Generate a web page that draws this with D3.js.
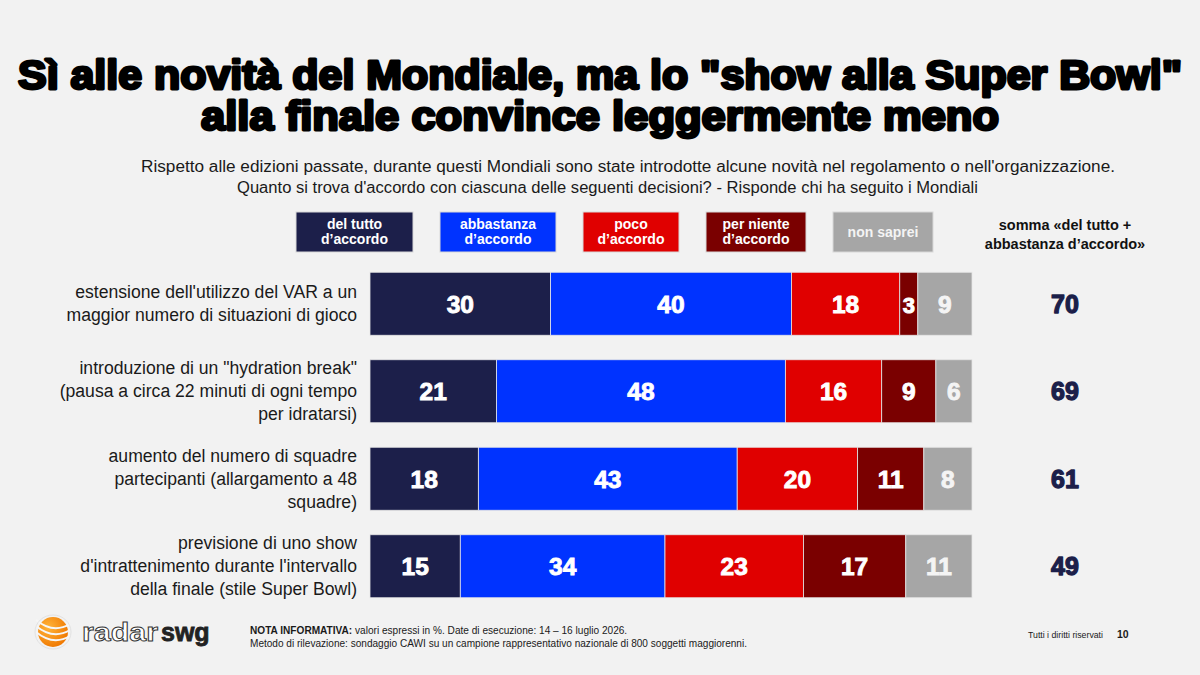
<!DOCTYPE html>
<html><head><meta charset="utf-8">
<script src="https://cdn.jsdelivr.net/npm/d3@7"></script>
<style>
html,body{margin:0;padding:0;background:#f2f2f2;}
svg{display:block;font-family:"Liberation Sans",Arial,sans-serif;}
</style></head>
<body>
<svg id="chart" width="1200" height="675"></svg>
<script>
// ---- data ----
const categories = [
  ["estensione dell'utilizzo del VAR a un", "maggior numero di situazioni di gioco"],
  ["introduzione di un \"hydration break\"", "(pausa a circa 22 minuti di ogni tempo", "per idratarsi)"],
  ["aumento del numero di squadre", "partecipanti (allargamento a 48", "squadre)"],
  ["previsione di uno show", "d'intrattenimento durante l'intervallo", "della finale (stile Super Bowl)"]
];
const seriesNames = [["del tutto","d\u2019accordo"],["abbastanza","d\u2019accordo"],["poco","d\u2019accordo"],["per niente","d\u2019accordo"],["non saprei"]];
const delTutto   = [30, 21, 18, 15];
const abbastanza = [40, 48, 43, 34];
const poco       = [18, 16, 20, 23];
const perNiente  = [3, 9, 11, 17];
const nonSaprei  = [9, 6, 8, 11];
const somma      = [70, 69, 61, 49];
const colors = ["#1c1f4a", "#0033ff", "#e00000", "#7a0000", "#a6a6a6"];

const seriesValues = [delTutto, abbastanza, poco, perNiente, nonSaprei];

const svg = d3.select("#chart");
svg.append("rect").attr("width",1200).attr("height",675).attr("fill","#f2f2f2");

// ---- title ----
const title = svg.append("g");
title.append("text").attr("x",18).attr("y",89)
  .attr("textLength",1164).attr("lengthAdjust","spacingAndGlyphs")
  .text("S\u00ec alle novit\u00e0 del Mondiale, ma lo \"show alla Super Bowl\"");
title.append("text").attr("x",201).attr("y",130)
  .attr("textLength",798).attr("lengthAdjust","spacingAndGlyphs")
  .text("alla finale convince leggermente meno");
title.selectAll("text").attr("font-size",40).attr("font-weight","bold")
  .attr("fill","#000").attr("stroke","#000").attr("stroke-width",2.8).attr("stroke-linejoin","round");

// ---- subtitle ----
svg.append("text").attr("x",141).attr("y",172).attr("font-size",15.8).attr("fill","#1a1a1a")
  .attr("textLength",974).attr("lengthAdjust","spacingAndGlyphs")
  .text("Rispetto alle edizioni passate, durante questi Mondiali sono state introdotte alcune novit\u00e0 nel regolamento o nell'organizzazione.");
svg.append("text").attr("x",237).attr("y",193).attr("font-size",15.8).attr("fill","#1a1a1a")
  .attr("textLength",741).attr("lengthAdjust","spacingAndGlyphs")
  .text("Quanto si trova d'accordo con ciascuna delle seguenti decisioni? - Risponde chi ha seguito i Mondiali");

// ---- legend ----
const legendX = [296, 440, 583, 706, 833];
const legendW = [117, 116, 96, 100, 100];
const lg = svg.append("g").selectAll("g").data(seriesNames).join("g");
lg.append("rect").attr("x",(d,i)=>legendX[i]).attr("y",212).attr("width",(d,i)=>legendW[i]).attr("height",40)
  .attr("fill",(d,i)=>colors[i]).attr("stroke","#d8d8d8").attr("stroke-width",1);
lg.each(function(d,i){
  const t = d3.select(this).append("text").attr("text-anchor","middle").attr("fill",i===4?"#f4f4f4":"#fff")
    .attr("font-size",14).attr("font-weight","bold");
  const cx = legendX[i]+legendW[i]/2;
  if(d.length===1){ t.append("tspan").attr("x",cx).attr("y",237).text(d[0]); }
  else { d.forEach((s,j)=>t.append("tspan").attr("x",cx).attr("y",229+j*15).text(s)); }
});

// somma header
const sh = svg.append("text").attr("text-anchor","middle").attr("font-size",14.5).attr("font-weight","bold").attr("fill","#111");
sh.append("tspan").attr("x",1065).attr("y",230).text("somma \u00abdel tutto +");
sh.append("tspan").attr("x",1065).attr("y",249).text("abbastanza d\u2019accordo\u00bb");

// ---- scales ----
const x = d3.scaleLinear().domain([0,100]).range([370,972]);
const y = d3.scaleBand().domain(d3.range(categories.length)).range([260,610]).paddingInner(0.28).paddingOuter(0.14);

// stack
const rows = categories.map((c,i)=>{ const o={}; seriesValues.forEach((s,k)=>o["s"+k]=s[i]); return o; });
const stack = d3.stack().keys(seriesValues.map((s,k)=>"s"+k))(rows);

const barsG = svg.append("g");
stack.forEach((layer,k)=>{
  const g = barsG.append("g");
  g.selectAll("rect").data(layer).join("rect")
    .attr("x",d=>x(d[0])).attr("y",(d,i)=>y(i))
    .attr("width",d=>x(d[1])-x(d[0])).attr("height",y.bandwidth())
    .attr("fill",colors[k]).attr("stroke","#e6e6e6").attr("stroke-width",0.8);
  g.selectAll("text").data(layer).join("text")
    .attr("x",d=>(x(d[0])+x(d[1]))/2).attr("y",(d,i)=>y(i)+y.bandwidth()/2+9)
    .attr("text-anchor","middle").attr("font-size",(d)=>(d[1]-d[0])<5?22:24.5).attr("font-weight","bold")
    .attr("fill",k===4?"#f4f4f4":"#fff").attr("stroke",k===4?"#f4f4f4":"#fff").attr("stroke-width",0.9)
    .text(d=>d[1]-d[0]);
});

// ---- category labels ----
const catG = svg.append("g");
categories.forEach((lines,i)=>{
  const cy = y(i)+y.bandwidth()/2;
  const n = lines.length, lh = 23;
  const t = catG.append("text").attr("text-anchor","end").attr("font-size",17.6).attr("fill","#1a1a1a");
  lines.forEach((s,j)=>t.append("tspan").attr("x",357).attr("y",cy+6+(j-(n-1)/2)*lh).text(s));
});

// ---- sums ----
svg.append("g").selectAll("text").data(somma).join("text")
  .attr("x",1065).attr("y",(d,i)=>y(i)+y.bandwidth()/2+9)
  .attr("text-anchor","middle").attr("font-size",25).attr("font-weight","bold").attr("fill","#1c1f4a")
  .attr("stroke","#1c1f4a").attr("stroke-width",1.3).attr("stroke-linejoin","round")
  .text(d=>d);

// ---- footer ----
const f1 = svg.append("text").attr("x",250).attr("y",634).attr("font-size",10.1).attr("fill","#1a1a1a");
f1.append("tspan").attr("font-weight","bold").text("NOTA INFORMATIVA:");
f1.append("tspan").text(" valori espressi in %. Date di esecuzione: 14 \u2013 16 luglio 2026.");
svg.append("text").attr("x",250).attr("y",647).attr("font-size",10.1).attr("fill","#1a1a1a")
  .attr("textLength",497).attr("lengthAdjust","spacingAndGlyphs")
  .text("Metodo di rilevazione: sondaggio CAWI su un campione rappresentativo nazionale di 800 soggetti maggiorenni.");
svg.append("text").attr("x",1028).attr("y",638).attr("font-size",9.5).attr("fill","#1a1a1a")
  .attr("textLength",75).attr("lengthAdjust","spacingAndGlyphs").text("Tutti i diritti riservati");
svg.append("text").attr("x",1117).attr("y",638).attr("font-size",10.5).attr("font-weight","bold").attr("fill","#1a1a1a").text("10");

// ---- logo ----
const logo = svg.append("g");
const grad = svg.append("defs").append("radialGradient").attr("id","og").attr("cx","35%").attr("cy","35%").attr("r","70%");
grad.append("stop").attr("offset","0%").attr("stop-color","#ffb43a");
grad.append("stop").attr("offset","100%").attr("stop-color","#f07800");
logo.append("circle").attr("cx",53).attr("cy",632).attr("r",15).attr("fill","url(#og)");
[-6,0,6].forEach((dy)=>{
  logo.append("path").attr("d",`M${36},${632+dy-6} Q${53},${632+dy+8} ${70},${632+dy-2}`)
    .attr("fill","none").attr("stroke","#f6f6f6").attr("stroke-width",2);
});
logo.append("ellipse").attr("cx",53).attr("cy",632).attr("rx",18).attr("ry",17).attr("fill","none").attr("stroke","#e2e2e2").attr("stroke-width",1);
logo.append("text").attr("x",82).attr("y",641).attr("font-size",25).attr("font-weight","bold")
  .attr("textLength",76).attr("lengthAdjust","spacingAndGlyphs")
  .attr("fill","#ffffff").attr("stroke","#333").attr("stroke-width",0.9).text("radar");
logo.append("text").attr("x",161).attr("y",641).attr("font-size",25).attr("font-weight","bold")
  .attr("fill","#222").attr("stroke","#222").attr("stroke-width",0.8).text("swg");
</script>
</body></html>
